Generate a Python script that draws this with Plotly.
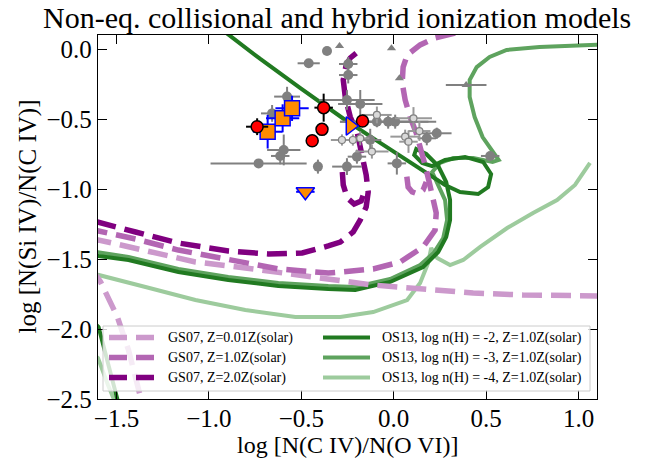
import plotly.graph_objects as go

# ---------------- model tracks: log N(CIV)/N(OVI) vs log N(SiIV)/N(CIV) ----------------
gs07_z001_x = [-1.316, -1.37, -1.435, -1.495, -1.586, -1.65, -1.71, -1.67, -1.597, -1.289, -1.073,
               -0.803, -0.532, -0.289, -0.111, 0.159, 0.43, 0.70, 1.095, 1.2]
gs07_z001_y = [-2.65, -2.486, -2.15, -1.914, -1.664, -1.54, -1.45, -1.39, -1.364, -1.457, -1.521,
               -1.564, -1.614, -1.65, -1.686, -1.714, -1.743, -1.757, -1.764, -1.765]

gs07_z1_x = [0.332, 0.224, 0.143, 0.073, 0.051, 0.046, 0.062, 0.089, 0.122, 0.149, 0.170, 0.192,
             0.214, 0.230, 0.224, 0.159, 0.035, -0.111, -0.289, -0.354, -0.624, -0.895, -1.165,
             -1.397, -1.597, -1.7, None,
             0.071, 0.078, 0.100, 0.132, 0.159, 0.176]
gs07_z1_y = [0.114, 0.079, 0.029, -0.043, -0.129, -0.243, -0.364, -0.486, -0.6, -0.721, -0.829, -0.95,
             -1.064, -1.171, -1.293, -1.414, -1.521, -1.571, -1.593, -1.6, -1.571, -1.507, -1.436,
             -1.357, -1.298, -1.27, None,
             -0.912, -0.986, -1.021, -1.036, -1.007, -0.95]

gs07_z2_x = [-0.203, -0.235, -0.257, -0.273, -0.262, -0.235, -0.197, -0.181, -0.165, -0.149, -0.138,
             -0.149, -0.181, -0.219, -0.289, -0.354, -0.495, -0.678, -0.895, -1.165, -1.397, -1.597,
             -1.749, None,
             -0.278, -0.273, -0.251, -0.214, -0.176, -0.159]
gs07_z2_y = [-0.029, -0.064, -0.114, -0.221, -0.343, -0.486, -0.6, -0.7, -0.793, -0.9, -1.021,
             -1.129, -1.221, -1.307, -1.379, -1.407, -1.457, -1.464, -1.443, -1.386, -1.307, -1.243,
             -1.186, None,
             -0.879, -0.971, -1.064, -1.107, -1.086, -1.021]

os13_n2_x = [-0.927, -0.722, -0.505, -0.262, -0.073, 0.089, 0.197, 0.278, 0.359, 0.457, 0.511, 0.527,
             0.484, 0.386, 0.278, 0.208, 0.154, 0.111, 0.122, 0.176, 0.241, 0.284, 0.305, 0.305,
             0.284, 0.241, 0.159, -0.019, -0.208, -0.354, -0.624, -0.895, -1.165, -1.435, -1.597,
             -1.749, -1.803, -1.697, -1.597, -1.543, -1.495, -1.473]
os13_n2_y = [0.136, -0.071, -0.279, -0.507, -0.671, -0.807, -0.9, -0.971, -1.021, -1.036, -0.986, -0.893,
             -0.807, -0.771, -0.793, -0.836, -0.814, -0.757, -0.714, -0.75, -0.836, -0.95, -1.079, -1.221,
             -1.343, -1.45, -1.557, -1.664, -1.721, -1.714, -1.693, -1.65, -1.593, -1.507, -1.479,
             -1.436, -1.65, -1.864, -1.986, -2.257, -2.507, -2.614]

os13_n3_x = [1.195, 1.092, 0.789, 0.611, 0.519, 0.449, 0.411, 0.411, 0.438, 0.481, 0.53, 0.568, 0.535,
             0.43, 0.322, 0.251, 0.208, 0.241, 0.278, 0.289, 0.268, 0.216, 0.143, -0.019, -0.208,
             -0.354, -0.624, -0.895, -1.165, -1.435, -1.597, -1.749]
os13_n3_y = [0.036, 0.029, 0.014, -0.007, -0.057, -0.129, -0.221, -0.343, -0.486, -0.629, -0.721, -0.793,
             -0.807, -0.779, -0.779, -0.814, -0.879, -0.979, -1.079, -1.221, -1.35, -1.457, -1.543,
             -1.643, -1.7, -1.693, -1.671, -1.629, -1.571, -1.486, -1.457, -1.421]

os13_n4_x = [-1.481, -1.508, -1.546, -1.600, -1.697, -1.805, -1.751, -1.597, -1.343, -1.073, -0.803,
             -0.532, -0.289, -0.111, 0.073, 0.143, 0.186, 0.203, 0.235, 0.305, 0.376, 0.468, 0.614,
             0.754, 0.884, 0.981, 1.062]
os13_n4_y = [-2.65, -2.521, -2.4, -2.207, -2.114, -1.936, -1.686, -1.614, -1.7, -1.793, -1.864,
             -1.914, -1.914, -1.879, -1.793, -1.671, -1.529, -1.421, -1.493, -1.543, -1.507, -1.414,
             -1.279, -1.171, -1.079, -0.971, -0.814]

# ---------------- observed absorbers ----------------
gray_x = [-0.361, -0.46, -0.246, -0.246, -0.253, -0.181, -0.577, -0.658, -0.595, -0.614, -0.731,
          -0.41, -0.253, -0.199, -0.127, -0.091, -0.03, 0.008, 0.179, 0.233, 0.017, 0.522]
gray_y = [-0.014, -0.102, -0.107, -0.186, -0.364, -0.393, -0.34, -0.46, -0.721, -0.764, -0.817,
          -0.84, -0.84, -0.769, -0.65, -0.519, -0.519, -0.519, -0.638, -0.602, -0.817, -0.764]
gray_xerr = [0, 0.06, 0.05, 0.05, 0.15, 0.12, 0.07, 0.06, 0.09, 0.05, 0.26,
             0, 0.08, 0.05, 0.06, 0.2, 0.26, 0.18, 0.05, 0.08, 0.05, 0.05]
gray_yerr = [0, 0.03, 0.05, 0.06, 0.07, 0.10, 0.07, 0.06, 0.11, 0.06, 0,
             0.05, 0.06, 0.05, 0.08, 0.04, 0.05, 0.05, 0.05, 0.04, 0.08, 0.02]

open_x = [-0.091, 0.107, 0.139, 0.062, 0.08, -0.118, -0.28, -0.221, -0.181]
open_y = [-0.471, -0.495, -0.586, -0.626, -0.662, -0.733, -0.65, -0.65, -0.638]
open_xerr = [0.08, 0.10, 0.06, 0.08, 0.05, 0.09, 0.06, 0.05, 0.05]
open_yerr = [0.06, 0.08, 0.07, 0.05, 0.08, 0.05, 0.04, 0.04, 0.05]

tri_x = [-0.293, -0.012, 0.031, 0.392]
tri_y = [0.021, 0.005, -0.209, -0.257]
tri_xerr = [0, 0, 0, 0.11]

sq_x = [-0.682, -0.601, -0.550]
sq_y = [-0.591, -0.495, -0.424]
sq_xerr = [0.08, 0.09, 0.09]
sq_yerr = [0.12, 0.10, 0.09]

red_x = [-0.739, -0.379, -0.388, -0.441, -0.169]
red_y = [-0.555, -0.419, -0.574, -0.655, -0.514]
red_xerr = [0.06, 0.05, 0, 0, 0]
red_yerr = [0.06, 0.10, 0, 0, 0]

down_x = [-0.478]
down_y = [-1.02]
down_xerr = [0.05]

right_x = [-0.235]
right_y = [-0.55]

X_TICKS = [-1.5, -1.0, -0.5, 0.0, 0.5, 1.0]
Y_TICKS = [0.0, -0.5, -1.0, -1.5, -2.0, -2.5]

GS_COLORS = ["#cc99cc", "#b366b3", "#800080"]
OS_COLORS = ["#217a21", "#5ea35e", "#9dcb9d"]
GS_LABELS = ["GS07, Z=0.01Z(solar)", "GS07, Z=1.0Z(solar)", "GS07, Z=2.0Z(solar)"]
OS_LABELS = ["OS13, log n(H) = -2, Z=1.0Z(solar)", "OS13, log n(H) = -3, Z=1.0Z(solar)",
             "OS13, log n(H) = -4, Z=1.0Z(solar)"]
DASH = "20px,9px"
SERIF = "Liberation Serif, Times New Roman, serif"

fig = go.Figure()

gs_tracks = [(gs07_z001_x, gs07_z001_y), (gs07_z1_x, gs07_z1_y), (gs07_z2_x, gs07_z2_y)]
os_tracks = [(os13_n2_x, os13_n2_y), (os13_n3_x, os13_n3_y), (os13_n4_x, os13_n4_y)]

for (tx, ty), col in zip(reversed(os_tracks), reversed(OS_COLORS)):
    fig.add_trace(go.Scatter(x=tx, y=ty, mode="lines", line=dict(color=col, width=4),
                             connectgaps=False, showlegend=False, hoverinfo="skip"))
for (tx, ty), col in zip(gs_tracks, GS_COLORS):
    fig.add_trace(go.Scatter(x=tx, y=ty, mode="lines", line=dict(color=col, width=5.5, dash=DASH),
                             connectgaps=False, showlegend=False, hoverinfo="skip"))

GRAY = "#808080"
fig.add_trace(go.Scatter(
    x=gray_x, y=gray_y, mode="markers",
    marker=dict(symbol="circle", size=10, color=GRAY, line=dict(width=0)),
    error_x=dict(type="data", array=gray_xerr, color=GRAY, thickness=2, width=0),
    error_y=dict(type="data", array=gray_yerr, color=GRAY, thickness=2, width=0),
    showlegend=False))
fig.add_trace(go.Scatter(
    x=open_x, y=open_y, mode="markers",
    marker=dict(symbol="circle", size=7, color="#d9d9d9", line=dict(width=1.2, color=GRAY)),
    error_x=dict(type="data", array=open_xerr, color="#999999", thickness=2, width=0),
    error_y=dict(type="data", array=open_yerr, color="#999999", thickness=2, width=0),
    showlegend=False))
fig.add_trace(go.Scatter(
    x=tri_x, y=tri_y, mode="markers",
    marker=dict(symbol="triangle-up", size=8, color=GRAY, line=dict(width=0)),
    error_x=dict(type="data", array=tri_xerr, color=GRAY, thickness=2, width=0),
    showlegend=False))
fig.add_trace(go.Scatter(
    x=sq_x, y=sq_y, mode="markers",
    marker=dict(symbol="square", size=15, color="#ff8c00", line=dict(width=1.5, color="#0000ff")),
    error_x=dict(type="data", array=sq_xerr, color="#0000ff", thickness=2, width=0),
    error_y=dict(type="data", array=sq_yerr, color="#0000ff", thickness=2, width=0),
    showlegend=False))
fig.add_trace(go.Scatter(
    x=red_x, y=red_y, mode="markers",
    marker=dict(symbol="circle", size=12, color="#ff0000", line=dict(width=1.5, color="#000000")),
    error_x=dict(type="data", array=red_xerr, color="#000000", thickness=2, width=0),
    error_y=dict(type="data", array=red_yerr, color="#000000", thickness=2, width=0),
    showlegend=False))
fig.add_trace(go.Scatter(
    x=down_x, y=down_y, mode="markers",
    marker=dict(symbol="triangle-down", size=16, color="#ff8c00", line=dict(width=1.5, color="#0000ff")),
    error_x=dict(type="data", array=down_xerr, color="#0000ff", thickness=2, width=0),
    showlegend=False))
fig.add_trace(go.Scatter(
    x=right_x, y=right_y, mode="markers",
    marker=dict(symbol="triangle-right", size=16, color="#ff8c00", line=dict(width=1.5, color="#0000ff")),
    showlegend=False))

# ---------------- hand-built two-column legend ----------------
L, R, T, B = 98, 75, 35, 61
W, H = 672 - L - R, 460 - T - B


def px(xp):
    return (xp - L) / W


def py(yp):
    return (460 - B - yp) / H


shapes = [dict(type="rect", xref="paper", yref="paper", x0=px(103), x1=px(590), y0=py(391), y1=py(326),
               fillcolor="rgba(255,255,255,0.8)", line=dict(color="#cccccc", width=1), layer="above")]
annotations = []
rows = [337.5, 357.5, 377.5]
for i, row in enumerate(rows):
    shapes.append(dict(type="line", xref="paper", yref="paper", x0=px(109), x1=px(155), y0=py(row), y1=py(row),
                       line=dict(color=GS_COLORS[i], width=5.5, dash="18px,9px"), layer="above"))
    shapes.append(dict(type="line", xref="paper", yref="paper", x0=px(323), x1=px(370), y0=py(row), y1=py(row),
                       line=dict(color=OS_COLORS[i], width=4), layer="above"))
    annotations.append(dict(xref="paper", yref="paper", x=px(166), y=py(row), text=GS_LABELS[i],
                            showarrow=False, xanchor="left", yanchor="middle",
                            font=dict(family=SERIF, size=14, color="black")))
    annotations.append(dict(xref="paper", yref="paper", x=px(380), y=py(row), text=OS_LABELS[i],
                            showarrow=False, xanchor="left", yanchor="middle",
                            font=dict(family=SERIF, size=14, color="black")))

annotations.append(dict(xref="paper", yref="paper", x=0.5, y=py(459.5), text="log [N(C IV)/N(O VI)]",
                        showarrow=False, xanchor="center", yanchor="bottom",
                        font=dict(family=SERIF, size=24, color="black")))
annotations.append(dict(xref="paper", yref="paper", x=px(27.5), y=0.5, text="log [N(Si IV)/N(C IV)]",
                        showarrow=False, xanchor="center", yanchor="middle", textangle=-90,
                        font=dict(family=SERIF, size=25, color="black")))
annotations.append(dict(xref="paper", yref="paper", x=px(337), y=py(18),
                        text="Non-eq. collisional and hybrid ionization models",
                        showarrow=False, xanchor="center", yanchor="middle",
                        font=dict(family=SERIF, size=30, color="black")))

axis_common = dict(showgrid=False, zeroline=False, showline=True, linecolor="black", linewidth=1.3,
                   mirror="allticks", ticks="inside", ticklen=9, tickwidth=1.3, tickcolor="black",
                   tickfont=dict(family=SERIF, size=25, color="black"))

fig.update_layout(
    width=672, height=460,
    margin=dict(l=L, r=R, t=T, b=B),
    paper_bgcolor="white", plot_bgcolor="white",
    showlegend=False,
    xaxis=dict(range=[-1.6, 1.1], tickvals=X_TICKS, tickformat=".1f", ticklabelstandoff=-3, **axis_common),
    yaxis=dict(range=[-2.5, 0.1], tickvals=Y_TICKS, tickformat=".1f", **axis_common),
    shapes=shapes, annotations=annotations,
)

fig.write_html("out.html")
